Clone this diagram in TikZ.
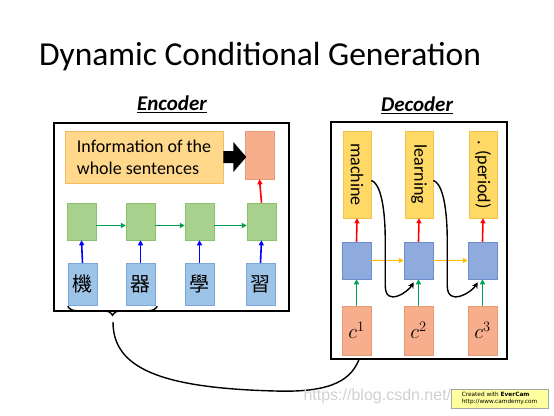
\documentclass[tikz,border=0pt]{standalone}
\usepackage{fontspec}
\setmainfont{Carlito}
\newfontfamily\cjk{Noto Sans CJK TC}
\newfontfamily\wmfont{Liberation Sans}
\newfontfamily\ecfont{DejaVu Sans}
\usetikzlibrary{arrows.meta,decorations.pathreplacing}
\definecolor{infofill}{HTML}{FFD88C}
\definecolor{infodraw}{HTML}{F5BD60}
\definecolor{salfill}{HTML}{F7AE8C}
\definecolor{saldraw}{HTML}{E89A74}
\definecolor{grnfill}{HTML}{A9D18E}
\definecolor{grndraw}{HTML}{8CBF6E}
\definecolor{chrfill}{HTML}{9DC3E6}
\definecolor{chrdraw}{HTML}{7DA6D8}
\definecolor{decfill}{HTML}{8FAADC}
\definecolor{decdraw}{HTML}{6E8CCB}
\definecolor{outfill}{HTML}{FFD966}
\definecolor{outdraw}{HTML}{F2C14E}
\definecolor{garrow}{HTML}{00A050}
\definecolor{oarrow}{HTML}{FFC000}
\definecolor{ecfill}{HTML}{FFFF9E}
\tikzset{
  frame/.style={draw=black, line width=2.2pt, minimum width=#1},
  cell/.style={minimum width=29pt, inner sep=0pt},
  infobox/.style={fill=infofill, draw=infodraw, line width=0.6pt, minimum width=158pt, minimum height=52pt, align=left, font=\fontsize{18}{22}\selectfont, inner sep=0pt},
  salbox/.style={cell, fill=salfill, draw=saldraw, line width=0.5pt},
  grnbox/.style={cell, fill=grnfill, draw=grndraw, line width=0.5pt, minimum height=37pt},
  chrbox/.style={cell, fill=chrfill, draw=chrdraw, line width=0.5pt, minimum height=42pt, font=\cjk\fontsize{20}{22}\selectfont},
  decbox/.style={cell, fill=decfill, draw=decdraw, line width=0.5pt, minimum height=37pt},
  outbox/.style={cell, minimum width=28pt, fill=outfill, draw=outdraw, line width=0.5pt, minimum height=87pt},
  outtext/.style={rotate=-90, font=\fontsize{18}{20}\selectfont},
  cbox/.style={salbox, minimum height=49pt, font=\fontsize{20}{22}\selectfont},
  arr/.style={-{Triangle[length=5pt,width=5pt]}, line width=1.6pt},
  curve/.style={black, line width=1.4pt},
  heading/.style={font=\fontsize{21}{25}\selectfont\bfseries\itshape},
}
\begin{document}
\begin{tikzpicture}[x=1pt,y=-1pt]
\useasboundingbox (0,0) rectangle (554,415);
\fill[white] (0,0) rectangle (554,415);

% title
\node[font=\fontsize{33.5}{38}\selectfont, anchor=base] (title) at (260,65) {Dynamic Conditional Generation};

% headings
\node[heading] (enclab) at (172,104) {\underline{Encoder}};
\node[heading] (declab) at (417,105) {\underline{Decoder}};

% frames
\node[frame=235pt, minimum height=188pt] (enc) at (171.5,217) {};
\node[frame=176pt, minimum height=237pt] (dec) at (419,240.5) {};

% encoder content
\node[infobox] (info) at (144,157) {Information of the\\whole sentences};
\node[salbox, minimum height=48pt] (sal) at (259.5,155) {};
\foreach \i/\x in {1/81.5,2/140.5,3/199.5,4/261.5}{
  \node[grnbox] (g\i) at (\x,221.5) {};
}
\node[chrbox] (k1) at (82.5,284) {機};
\node[chrbox] (k2) at (140.5,284) {器};
\node[chrbox] (k3) at (199.5,284) {學};
\node[chrbox] (k4) at (260.5,284) {習};
\foreach \i in {1,2,3,4}{
  \draw[arr, blue] (k\i.north) -- (g\i.south);
}
\foreach \i/\j in {1/2,2/3,3/4}{
  \draw[arr, garrow] ([yshift=-4pt]g\i.east) -- ([yshift=-4pt]g\j.west);
}
\draw[arr, red] (g4.north) -- (sal.south);
\fill[black] ([yshift=6pt]info.east) -- ++(10pt,0pt) -- ++(0pt,9pt) -- ++(13pt,-15pt)
  -- ++(-13pt,-15pt) -- ++(0pt,9pt) -- ++(-10pt,0pt) -- cycle;

% decoder content
\node[outbox] (o1) at (357,174.5) {};
\node[outbox] (o2) at (419,174.5) {};
\node[outbox] (o3) at (483,174.5) {};
\node[outtext] (t1) at (o1.center) {machine};
\node[outtext] (t2) at (o2.center) {learning};
\node[outtext] (t3) at (o3.center) {. (period)};
\foreach \i/\x in {1/356.5,2/418.5,3/482.5}{
  \node[decbox] (b\i) at (\x,260.5) {};
}
\node[cbox] (c1) at (356.5,330.5) {$c^1$};
\node[cbox] (c2) at (418.5,330.5) {$c^2$};
\node[cbox] (c3) at (482.5,330.5) {$c^3$};
\foreach \i in {1,2,3}{
  \draw[arr, red] (b\i.north) -- (o\i.south);
  \draw[arr, garrow] (c\i.north) -- (b\i.south);
}
\foreach \i/\j in {1/2,2/3}{
  \draw[arr, oarrow] (b\i.east) -- (b\j.west);
}
% feedback curves
\draw[curve, -{Stealth[length=6pt,width=6pt]}] ([yshift=-6pt]o1.east) .. controls +(12pt,-4pt) and +(0pt,20pt) .. ++(14pt,-60pt)
  -- ++(0pt,-45pt) .. controls +(0pt,-22pt) and +(-6pt,-10pt) .. ([xshift=10pt,yshift=-3pt]b2.south west);
\draw[curve, -{Stealth[length=6pt,width=6pt]}] ([yshift=-6pt]o2.east) .. controls +(12pt,-4pt) and +(0pt,20pt) .. ++(14pt,-60pt)
  -- ++(0pt,-45pt) .. controls +(0pt,-22pt) and +(-6pt,-10pt) .. ([xshift=10pt,yshift=-3pt]b3.south west);

% brace and context curve
\draw[curve, decorate, decoration={brace, mirror, amplitude=9pt}] ([yshift=-1pt]k1.south west) -- ([xshift=2pt,yshift=-1pt]k2.south east);
\coordinate (btip) at (113,322);
\draw[curve] (btip) .. controls (113,368) and (160,388) .. (275,391)
  .. controls (335,393) and (352,378) .. ([xshift=3pt,yshift=-3pt]c1.south);

% watermarks
\node[anchor=west, font=\wmfont\fontsize{16}{18}\selectfont, text=black!18] (wm) at (300,396) {https://blog.csdn.net/};
\node[fill=ecfill, draw=black!35, line width=0.5pt, minimum width=97pt, minimum height=19pt, inner sep=1pt, align=left, font=\ecfont\fontsize{5.8}{6.8}\selectfont] (ec) at (499.5,398.5) {Created with \textbf{EverCam}\\http://www.camdemy.com};
\end{tikzpicture}
\end{document}
